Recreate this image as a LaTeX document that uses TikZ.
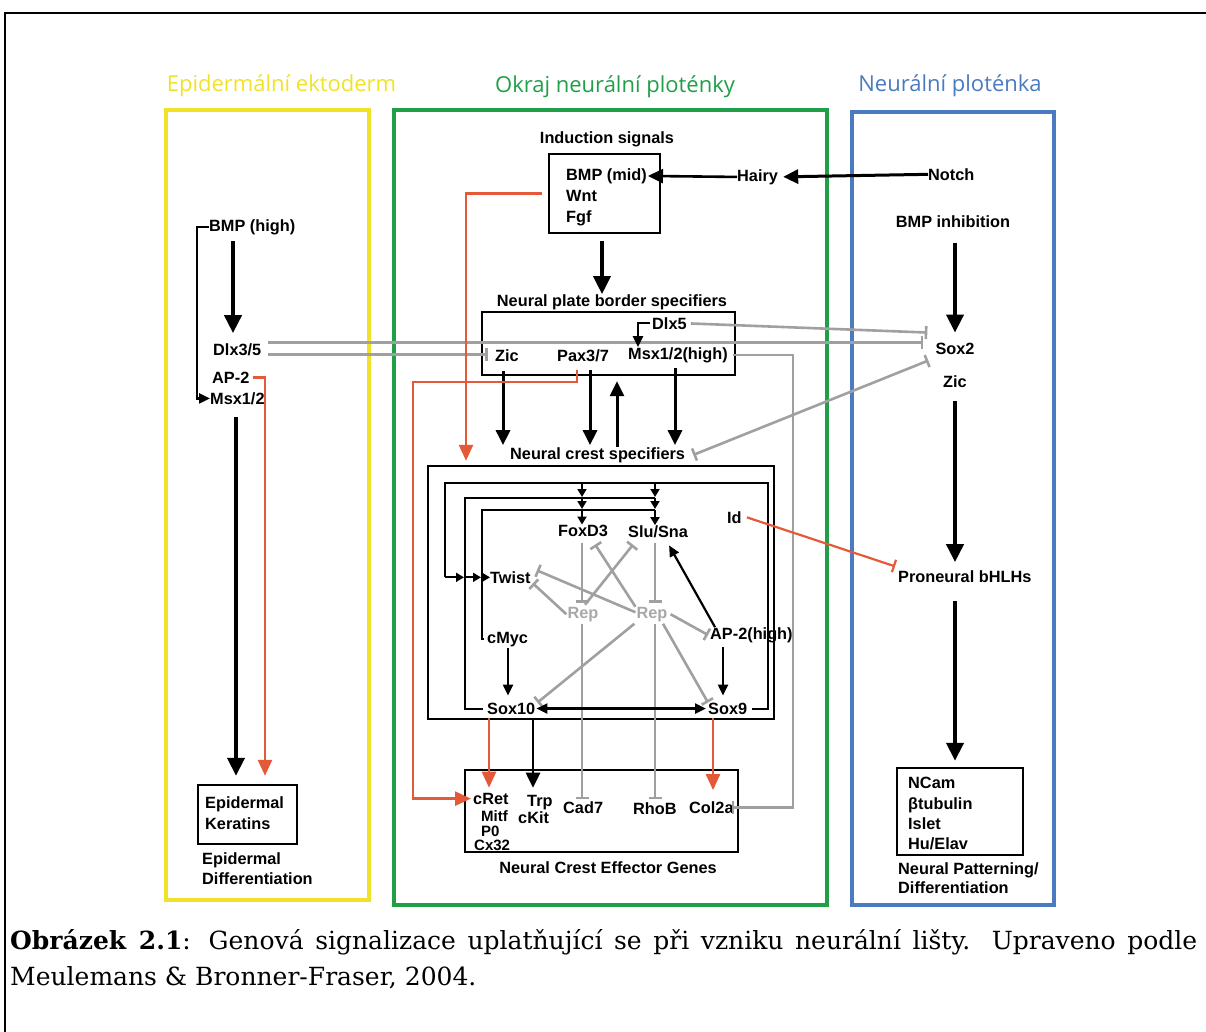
\documentclass[tikz,border=0pt]{standalone}
\usepackage{fontspec}
\usetikzlibrary{arrows.meta}
\newfontfamily\labf{Liberation Sans}
\newfontfamily\ttlf{Open Sans}
\newfontfamily\capf{DejaVu Serif}
\definecolor{yelc}{RGB}{240,226,40}
\definecolor{grnc}{RGB}{32,158,72}
\definecolor{bluc}{RGB}{74,122,192}
\definecolor{redc}{RGB}{228,90,56}
\definecolor{gryc}{RGB}{160,160,160}
\definecolor{repc}{RGB}{168,168,168}
\begin{document}
\begin{tikzpicture}[x=1pt,y=-1pt,
 lab/.style={font=\labf\bfseries\fontsize{16.3}{19}\selectfont, inner sep=0pt, anchor=mid west, yshift=-4pt},
 labc/.style={lab, anchor=mid},
 labs/.style={lab, font=\labf\bfseries\fontsize{15}{17}\selectfont},
 ttl/.style={font=\ttlf\fontsize{22}{26}\selectfont, inner sep=0pt, anchor=mid},
 bx/.style={draw, line width=2.4pt, inner sep=0pt},
 big/.style={line width=4pt, -{Triangle[length=18pt,width=17pt]}},
 med/.style={line width=3pt, -{Triangle[length=15pt,width=14pt]}},
 sml/.style={line width=2.2pt, -{Triangle[length=11pt,width=10pt]}},
 tny/.style={line width=1.8pt, -{Triangle[length=8pt,width=9pt]}},
 lp/.style={line width=2pt},
 redar/.style={draw=redc, line width=2.6pt, -{Triangle[length=16pt,width=14pt]}},
 inh/.style={draw=gryc, line width=2.6pt, -{Bar[width=13pt]}},
 capt/.style={font=\capf\fontsize{25}{30}\selectfont, inner sep=0pt, anchor=base west},
]
\useasboundingbox (0,0) rectangle (1206,1032);
% page frame
\draw[line width=2pt] (4.5,1032) -- (4.5,13) -- (1206,13);

% column boxes and titles
\draw[yelc, line width=4pt] (166,110) rectangle (369,900);
\draw[grnc, line width=4pt] (394,110) rectangle (827,905);
\draw[bluc, line width=4pt] (852,112) rectangle (1054,905);
\node[ttl, text=yelc] (t1) at (281.5,89) {Epidermální ektoderm};
\node[ttl, text=grnc] (t2) at (615,90) {Okraj neurální ploténky};
\node[ttl, text=bluc] (t3) at (950,89) {Neurální ploténka};

% axis coordinates
\coordinate (axL) at (233,0);
\coordinate (axL2) at (236,0);
\coordinate (axLr) at (265,0);
\coordinate (axM) at (602,0);
\coordinate (axR1) at (466,0);
\coordinate (axD) at (638,0);
\coordinate (ax1) at (503,0);
\coordinate (ax2) at (590,0);
\coordinate (ax3) at (617,0);
\coordinate (ax4) at (675,0);
\coordinate (axG) at (793,0);
\coordinate (fx) at (582,0);
\coordinate (sx) at (655,0);
\coordinate (cx) at (508,0);
\coordinate (ax9) at (723,0);
\coordinate (rx1) at (489,0);
\coordinate (bx1) at (533,0);
\coordinate (rx2) at (713,0);
\coordinate (axRt) at (955,0);
\coordinate (cA1) at (768,483);
\coordinate (cA2) at (445,483);
\coordinate (cB1) at (465,498);
\coordinate (cC1) at (482,510);
\coordinate (rP) at (577,382);
\coordinate (rL) at (413,382);

% ---- boxes
\node[bx, minimum width=99pt, minimum height=59pt] (epik) at (247.5,814.5) {};
\node[bx, minimum width=111pt, minimum height=79pt] (indbox) at (604.5,193.5) {};
\node[bx, minimum width=253pt, minimum height=63pt] (npbbox) at (608.5,343.5) {};
\node[bx, minimum width=346pt, minimum height=253pt] (ncbox) at (601,592.5) {};
\node[bx, minimum width=273pt, minimum height=82pt] (effbox) at (601.5,811) {};
\node[bx, minimum width=126pt, minimum height=87pt] (npbox) at (960,811.5) {};

% ---- left column labels
\node[lab] (bmph) at (209,225) {BMP (high)};
\node[lab] (dlx35) at (213,349) {Dlx3/5};
\node[lab] (ap2l) at (212,377) {AP-2};
\node[lab] (msxl) at (210,398) {Msx1/2};
\node[lab] (epk1) at (205,802) {Epidermal};
\node[lab] (epk2) at (205,823) {Keratins};
\node[lab] (epd1) at (202,858) {Epidermal};
\node[lab] (epd2) at (202,878) {Differentiation};

% ---- middle column labels
\node[labc] (indt) at (607,137) {Induction signals};
\node[lab] (bmpmid) at (566,174) {BMP (mid)};
\node[lab] (wnt) at (566,195) {Wnt};
\node[lab] (fgf) at (566,216) {Fgf};
\node[lab] (hairy) at (737,175) {Hairy};
\node[labc] (npbt) at (612,300) {Neural plate border specifiers};
\node[lab] (dlx5) at (652,323) {Dlx5};
\node[lab] (zicm) at (495,355) {Zic};
\node[lab] (pax) at (557,355) {Pax3/7};
\node[lab] (msxh) at (628,353) {Msx1/2(high)};
\node[lab] (ncst) at (510,453) {Neural crest specifiers};
\node[lab] (foxd3) at (558,530) {FoxD3};
\node[lab] (slu) at (628,531) {Slu/Sna};
\node[lab] (id) at (727,517) {Id};
\node[lab] (twist) at (490,577) {Twist};
\node[labc, text=repc] (rep1) at (583,612) {Rep};
\node[labc, text=repc] (rep2) at (652,612) {Rep};
\node[lab] (cmyc) at (487,637) {cMyc};
\node[lab] (ap2h) at (710,633) {AP-2(high)};
\node[lab] (sox10) at (487,708) {Sox10};
\node[lab] (sox9) at (708,708) {Sox9};
\node[lab] (cret) at (473,798) {cRet};
\node[labs] (mitf) at (481,815) {Mitf};
\node[labs] (p0) at (481,830) {P0};
\node[labs] (cx32) at (474,844) {Cx32};
\node[lab] (trp) at (527,800) {Trp};
\node[lab] (ckit) at (518,817) {cKit};
\node[lab] (cad7) at (563,807) {Cad7};
\node[lab] (rhob) at (633,808) {RhoB};
\node[lab] (col2a) at (689,807) {Col2a};
\node[labc] (nceg) at (608,867) {Neural Crest Effector Genes};

% ---- right column labels
\node[lab] (notch) at (928,174) {Notch};
\node[labc] (bmpinh) at (953,221) {BMP inhibition};
\node[labc] (sox2) at (955,348) {Sox2};
\node[labc] (zicr) at (955,381) {Zic};
\node[lab] (pron) at (898,576) {Proneural bHLHs};
\node[lab] (ncam) at (908,782) {NCam};
\node[lab] (btub) at (908,803) {βtubulin};
\node[lab] (islet) at (908,823) {Islet};
\node[lab] (huel) at (908,843) {Hu/Elav};
\node[lab] (npd1) at (898,868) {Neural Patterning/};
\node[lab] (npd2) at (898,887) {Differentiation};

% ---- grey inhibitions (long)
\path (dlx35.east) ++(7,-7) coordinate (d1);
\path (dlx35.east) ++(7,5) coordinate (d2);
\draw[inh, shorten >=12pt] (d1) -- (d1 -| sox2.west);
\draw[inh, shorten >=7pt] (d2) -- (d2 -| zicm.west);
\draw[inh, shorten <=4pt] (dlx5.east) -- ([shift={(-8pt,16pt)}]sox2.west);
\draw[inh, {Bar[width=13pt]}-{Bar[width=13pt]}] ([xshift=8pt]ncst.east) -- ([shift={(-7pt,-12pt)}]sox2.west);
\draw[inh, shorten >=-2pt] ([xshift=5pt]msxh.east) -- (msxh.east -| axG) -- (axG |- col2a.east) -- (col2a.east);

% ---- left column connectors
\draw[sml] (bmph.west) -- ++(-12,0) |- (msxl.west);
\draw[big, shorten <=6pt, shorten >=10pt] (bmph.south -| axL) -- (dlx35.north -| axL);
\draw[big, shorten <=12pt, shorten >=8pt] (msxl.south -| axL2) -- (epik.north -| axL2);
\draw[redar, shorten >=8pt] ([xshift=3pt]ap2l.east) -| (epik.north -| axLr);

% ---- induction
\draw[med, line width=2.6pt, shorten >=1pt] (hairy.west) -- (bmpmid.east);
\draw[med, shorten >=5pt] (notch.west) -- (hairy.east);
\draw[big, line width=3.6pt, shorten <=7pt] (indbox.south -| axM) -- (npbt.north -| axM);
\draw[redar, shorten >=4pt] ([xshift=-6pt]indbox.west) -| (ncbox.north -| axR1);

% ---- border specifiers
\draw[sml] ([xshift=-2pt]dlx5.west) -| (msxh.north -| axD);
\draw[med, shorten <=9pt, shorten >=2pt] (zicm.south -| ax1) -- (ncst.north -| ax1);
\draw[med, shorten <=8pt, shorten >=2pt] (pax.south -| ax2) -- (ncst.north -| ax2);
\draw[med, shorten >=5pt] (ncst.north -| ax3) -- (npbbox.south -| ax3);
\draw[med, shorten <=5pt, shorten >=2pt] (msxh.south -| ax4) -- (ncst.north -| ax4);
\draw[redar, shorten <=8pt, shorten >=2pt] (pax.south -| rP) -- (rP) -- (rL) |- (cret.west);

% ---- neural crest network: grey
\draw[inh, shorten <=6pt, shorten >=4pt] (foxd3.south -| fx) -- (rep1.north -| fx);
\draw[inh, shorten <=2pt, shorten >=2pt] (rep1.south -| fx) -- (cad7.north -| fx);
\draw[inh, shorten <=5pt, shorten >=4pt] (slu.south -| sx) -- (rep2.north -| sx);
\draw[inh, shorten <=2pt, shorten >=3pt] (rep2.south -| sx) -- (rhob.north -| sx);
\draw[inh] ([shift={(2pt,2pt)}]rep1.north) -- ([shift={(5pt,-7pt)}]slu.south west);
\draw[inh] ([xshift=-1pt]rep2.north west) -- ([shift={(12pt,-8pt)}]foxd3.south);
\draw[inh] ([xshift=-1pt]rep1.west) -- ([shift={(2pt,-6pt)}]twist.east);
\draw[inh] ([shift={(-1pt,2pt)}]rep2.west) -- ([shift={(6pt,7pt)}]twist.east);
\draw[inh] ([xshift=3pt]rep2.east) -- ([xshift=-2pt]ap2h.west);
\draw[inh] ([shift={(-2pt,-2pt)}]rep2.south west) -- ([xshift=2pt]sox10.north east);
\draw[inh] ([shift={(11pt,-2pt)}]rep2.south) -- (sox9.north west);

% ---- neural crest network: black loops
\draw[lp] ([xshift=5pt]sox9.east) -| (cA1) -- (cA2) -- (cA2 |- twist.west);
\draw[lp] ([xshift=-4pt]sox10.west) -| (cB1) -- (cB1 -| sx);
\draw[lp] ([xshift=-3pt]cmyc.west) -| (cC1) -- (cC1 -| sx);
\draw[tny, shorten >=1pt] (fx |- cA1) -- (fx |- cB1);
\draw[tny, shorten >=1pt] (fx |- cB1) -- (fx |- cC1);
\draw[tny] (fx |- cC1) -- (foxd3.north -| fx);
\draw[tny, shorten >=1pt] (sx |- cA1) -- (sx |- cB1);
\draw[tny, shorten >=1pt] (sx |- cB1) -- (sx |- cC1);
\draw[tny] (sx |- cC1) -- (slu.north -| sx);
\draw[tny, shorten >=1pt] (cA2 |- twist.west) -- (cB1 |- twist.west);
\draw[tny, shorten >=1pt] (cB1 |- twist.west) -- (cC1 |- twist.west);
\draw[tny] (cC1 |- twist.west) -- (twist.west);
\draw[sml, shorten <=1pt, shorten >=7pt] (cmyc.south -| cx) -- (sox10.north -| cx);
\draw[sml, shorten <=4pt, shorten >=7pt] (ap2h.south -| ax9) -- (sox9.north -| ax9);
\draw[sml, shorten >=2pt] ([xshift=5pt]ap2h.north west) -- ([shift={(10pt,-6pt)}]slu.south);
\draw[sml, {Triangle[length=11pt,width=10pt]}-{Triangle[length=11pt,width=10pt]}] ([xshift=1pt]sox10.east) -- ([xshift=-2pt]sox9.west);

% ---- to effector genes
\draw[redar, shorten <=3pt, shorten >=5pt] (sox10.south -| rx1) -- (cret.north -| rx1);
\draw[med, line width=2.6pt, shorten <=3pt, shorten >=7pt] (sox10.south -| bx1) -- (trp.north -| bx1);
\draw[redar, shorten <=3pt, shorten >=11pt] (sox9.south -| rx2) -- (col2a.north -| rx2);

% ---- Id and right column
\draw[inh, draw=redc, line width=2.2pt] ([xshift=5pt]id.east) -- ([shift={(-3pt,10pt)}]pron.west);
\draw[big, shorten <=15pt, shorten >=10pt] (bmpinh.south -| axRt) -- (sox2.north -| axRt);
\draw[big, shorten <=13pt, shorten >=8pt] (zicr.south -| axRt) -- (pron.north -| axRt);
\draw[big, shorten <=18pt, shorten >=6pt] (pron.south -| axRt) -- (npbox.north -| axRt);

% ---- caption
\node[capt] (cap1) at (10,949) {\makebox[1187pt][s]{\textbf{Obrázek 2.1}: Genová signalizace uplatňující se při vzniku neurální lišty. Upraveno podle}};
\node[capt] (cap2) at (10,985) {Meulemans \& Bronner-Fraser, 2004.};
\end{tikzpicture}
\end{document}
